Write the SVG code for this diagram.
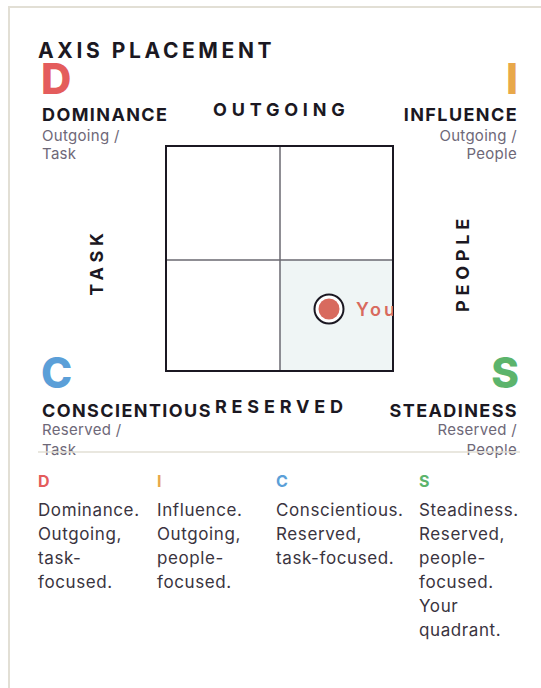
<svg xmlns="http://www.w3.org/2000/svg" width="541" height="688" viewBox="0 0 541 688">
  <style>
    text { font-family: Inter, "Noto Sans", "Liberation Sans", sans-serif; }
    .title { font-size: 21px; font-weight: 700; fill: #1b1822; letter-spacing: 3.6px; }
    .big { font-size: 42px; font-weight: 800; }
    .name { font-size: 18px; font-weight: 700; fill: #1b1822; letter-spacing: 1.4px; }
    .sub { font-size: 15px; fill: #6e6878; letter-spacing: 0.3px; }
    .axis { font-size: 18px; font-weight: 700; fill: #1b1822; letter-spacing: 4.8px; }
    .lh { font-size: 16px; font-weight: 700; }
    .lt { font-size: 17px; fill: #3a3440; letter-spacing: 0.6px; }
    .d { fill: #e45c5c; }
    .i { fill: #e8a84a; }
    .c { fill: #5b9fd8; }
    .s { fill: #5cb46c; }
  </style>
  <defs>
    <clipPath id="gridClip">
      <rect x="166" y="146" width="227" height="225"/>
    </clipPath>
  </defs>
  <rect x="0" y="0" width="541" height="688" fill="#ffffff"/>
  <!-- card frame -->
  <path d="M9 688 V7 H541" fill="none" stroke="#e2dfd5" stroke-width="2"/>

  <text class="title" x="38" y="58">AXIS PLACEMENT</text>

  <g id="quadrant-d">
    <text class="big d" x="41" y="94">D</text>
    <text class="name" x="42" y="121">DOMINANCE</text>
    <text class="sub" x="42" y="141">Outgoing /</text>
    <text class="sub" x="42" y="159">Task</text>
  </g>
  <g id="quadrant-i">
    <text class="big i" x="518" y="94" text-anchor="end">I</text>
    <text class="name" x="518" y="121" text-anchor="end">INFLUENCE</text>
    <text class="sub" x="517" y="141" text-anchor="end">Outgoing /</text>
    <text class="sub" x="517" y="159" text-anchor="end">People</text>
  </g>
  <g id="quadrant-c">
    <text class="big c" x="41" y="388">C</text>
    <text class="name" x="42" y="417">CONSCIENTIOUS</text>
    <text class="sub" x="42" y="435">Reserved /</text>
    <text class="sub" x="42" y="455">Task</text>
  </g>
  <g id="quadrant-s">
    <text class="big s" x="519" y="388" text-anchor="end">S</text>
    <text class="name" x="518" y="417" text-anchor="end">STEADINESS</text>
    <text class="sub" x="517" y="435" text-anchor="end">Reserved /</text>
    <text class="sub" x="517" y="455" text-anchor="end">People</text>
  </g>

  <g id="axis-labels">
    <text class="axis" x="213" y="116">OUTGOING</text>
    <text class="axis" x="215" y="413">RESERVED</text>
    <text class="axis" transform="translate(103 262) rotate(-90)" text-anchor="middle">TASK</text>
    <text class="axis" transform="translate(469 263) rotate(-90)" text-anchor="middle">PEOPLE</text>
  </g>

  <g id="grid">
    <rect x="280" y="260" width="113" height="111" fill="#eff5f5"/>
    <line x1="280" y1="146" x2="280" y2="371" stroke="#6a6870" stroke-width="1.5"/>
    <line x1="166" y1="260" x2="393" y2="260" stroke="#6a6870" stroke-width="1.5"/>
    <rect x="166" y="146" width="227" height="225" fill="none" stroke="#1b1822" stroke-width="2"/>
  </g>

  <g id="you-marker" clip-path="url(#gridClip)">
    <circle cx="329" cy="309" r="14.5" fill="#ffffff" stroke="#1b1822" stroke-width="2"/>
    <circle cx="329" cy="309" r="10.5" fill="#d86a5e"/>
    <text x="356" y="316" font-size="18" font-weight="600" fill="#d86a5e" letter-spacing="3">You</text>
  </g>

  <line x1="38" y1="452" x2="520" y2="452" stroke="#e2dfd5" stroke-width="1.5"/>

  <g id="legend-d">
    <text class="lh d" x="38" y="487">D</text>
    <text class="lt" x="38" y="516">Dominance.</text>
    <text class="lt" x="38" y="540">Outgoing,</text>
    <text class="lt" x="38" y="564">task-</text>
    <text class="lt" x="38" y="588">focused.</text>
  </g>
  <g id="legend-i">
    <text class="lh i" x="157" y="487">I</text>
    <text class="lt" x="157" y="516">Influence.</text>
    <text class="lt" x="157" y="540">Outgoing,</text>
    <text class="lt" x="157" y="564">people-</text>
    <text class="lt" x="157" y="588">focused.</text>
  </g>
  <g id="legend-c">
    <text class="lh c" x="276" y="487">C</text>
    <text class="lt" x="276" y="516">Conscientious.</text>
    <text class="lt" x="276" y="540">Reserved,</text>
    <text class="lt" x="276" y="564">task-focused.</text>
  </g>
  <g id="legend-s">
    <text class="lh s" x="419" y="487">S</text>
    <text class="lt" x="419" y="516">Steadiness.</text>
    <text class="lt" x="419" y="540">Reserved,</text>
    <text class="lt" x="419" y="564">people-</text>
    <text class="lt" x="419" y="588">focused.</text>
    <text class="lt" x="419" y="612">Your</text>
    <text class="lt" x="419" y="636">quadrant.</text>
  </g>
</svg>
